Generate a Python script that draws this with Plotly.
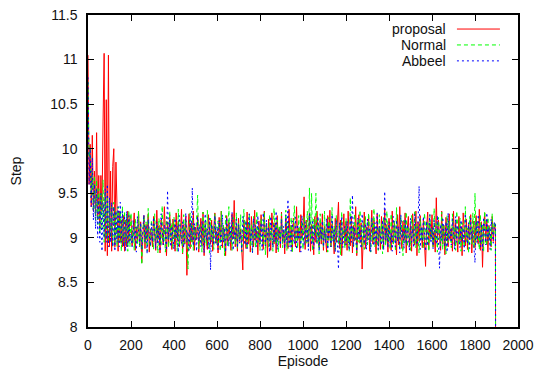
import plotly.graph_objects as go

# Episodes (x): every 5 episodes, final drop at 1900
episodes = list(range(0, 1900, 5)) + [1900]

proposal = [
    # 0-195
    11.05, 9.6, 10.05, 9.35, 10.15, 9.3, 9.75, 9.25, 10.18, 9.2,
    9.7, 9.1, 9.7, 9.3, 10.3, 11.07, 8.85, 10.55, 8.8, 11.05,
    8.9, 9.75, 8.85, 9.8, 10.0, 8.9, 9.85, 9.2, 8.85, 9.3,
    8.95, 9.2, 8.9, 9.25, 8.85, 9.2, 8.9, 9.3, 8.95, 9.25,
    # 200-1895
    9.22, 8.91, 9.05, 9.28, 8.86, 9.12, 8.95, 9.3, 8.9, 9.18, 8.72, 9.08, 9.25, 8.88, 9.15, 8.97, 9.27, 8.84, 9.1, 9.02,
    8.9, 9.24, 9.05, 8.86, 9.31, 8.98, 9.14, 8.83, 9.2, 9.01, 8.92, 9.35, 9.06, 8.8, 9.18, 8.94, 9.26, 9.0, 8.87, 9.21,
    9.1, 8.85, 9.28, 8.96, 9.19, 8.9, 9.04, 9.32, 8.82, 9.15, 8.93, 9.24, 8.58, 9.09, 9.27, 8.88, 9.17, 8.95, 9.3, 8.86,
    9.12, 8.98, 9.25, 8.84, 9.06, 9.22, 8.91, 9.29, 8.8, 9.16, 9.0, 8.87, 9.26, 9.03, 8.93, 9.2, 8.85, 9.11, 9.28, 8.94,
    9.07, 8.83, 9.23, 8.97, 9.3, 8.89, 9.14, 9.02, 8.8, 9.25, 8.92, 9.18, 9.05, 8.86, 9.27, 8.99, 9.42, 8.9, 9.13, 8.85,
    9.22, 8.96, 9.1, 8.82, 8.64, 9.2, 9.04, 8.88, 9.29, 8.93, 9.16, 8.84, 9.24, 9.01, 8.9, 9.31, 8.97, 9.08, 8.81, 9.19,
    8.95, 9.26, 9.03, 8.87, 9.3, 8.92, 9.15, 8.78, 9.21, 9.0, 8.86, 9.28, 9.06, 8.93, 9.17, 8.83, 9.25, 8.98, 9.12, 8.89,
    9.29, 8.94, 9.08, 8.82, 9.23, 9.01, 8.88, 9.32, 8.96, 9.14, 8.85, 9.22, 9.04, 8.9, 9.35, 8.97, 9.11, 8.84, 9.26, 8.99,
    9.1, 9.46, 8.87, 9.2, 9.03, 8.92, 9.28, 8.85, 9.15, 9.0, 8.81, 9.24, 8.95, 9.3, 9.07, 8.89, 9.19, 8.93, 9.27, 8.86,
    9.13, 9.0, 8.84, 9.25, 8.97, 9.31, 8.9, 9.16, 9.05, 8.82, 9.22, 8.95, 9.12, 9.4, 8.88, 9.2, 8.8, 9.06, 9.27, 8.92,
    9.18, 8.86, 9.3, 9.02, 8.91, 9.24, 8.83, 9.14, 8.97, 9.35, 8.8, 9.09, 9.26, 8.94, 9.17, 8.65, 9.03, 9.29, 8.88, 9.12,
    8.98, 9.25, 8.85, 9.1, 9.31, 8.93, 9.2, 9.01, 8.82, 9.27, 8.95, 9.13, 8.87, 9.24, 9.06, 8.9, 9.32, 8.96, 9.15, 8.84,
    9.22, 9.0, 8.86, 9.3, 8.94, 9.17, 9.05, 8.81, 9.26, 8.92, 9.35, 9.02, 8.88, 9.19, 8.97, 9.28, 8.83, 9.1, 9.24, 8.9,
    9.14, 8.85, 9.27, 9.03, 8.92, 9.3, 8.8, 9.18, 8.96, 9.25, 9.07, 8.89, 9.21, 8.94, 8.68, 9.12, 9.29, 8.87, 9.16, 8.99,
    9.26, 8.9, 9.08, 8.84, 9.45, 8.95, 9.2, 9.02, 8.86, 9.3, 8.93, 9.14, 8.81, 9.23, 9.05, 8.9, 9.27, 8.97, 9.11, 8.85,
    9.3, 8.92, 9.17, 9.0, 8.84, 9.24, 8.96, 9.13, 8.8, 9.28, 9.04, 8.91, 9.21, 8.87, 9.15, 8.98, 9.26, 8.83, 9.09, 9.19,
    8.89, 9.25, 9.02, 8.93, 9.32, 8.86, 9.18, 8.67, 9.1, 9.28, 8.95, 9.2, 8.84, 9.14, 9.0, 8.9, 9.24, 8.96, 9.15, 9.1,
    # 1900
    0.0,
]

normal = [
    # 0-195
    10.75, 9.9, 10.0, 9.45, 9.75, 9.3, 9.7, 9.2, 9.65, 9.15,
    9.55, 9.05, 9.5, 9.1, 9.65, 8.95, 9.5, 9.0, 9.45, 8.95,
    9.4, 9.0, 9.35, 8.9, 9.4, 8.95, 9.3, 8.9, 9.35, 8.95,
    9.3, 8.85, 9.35, 8.9, 9.3, 8.95, 9.25, 8.85, 9.3, 8.9,
    # 200-1895
    9.28, 8.95, 9.12, 8.86, 9.21, 9.03, 8.92, 9.3, 8.89, 9.15, 8.7, 9.06, 9.25, 8.93, 9.18, 8.85, 9.33, 9.0, 8.9, 9.2,
    9.04, 8.87, 9.27, 8.97, 9.14, 8.83, 9.22, 9.01, 8.91, 9.36, 8.95, 9.1, 8.84, 9.24, 9.06, 8.89, 9.3, 8.96, 9.17, 8.88,
    9.23, 8.99, 9.09, 8.85, 9.32, 8.93, 9.16, 9.04, 8.82, 9.26, 8.94, 9.19, 9.02, 8.65, 9.11, 9.28, 8.9, 9.2, 8.86, 9.13,
    8.97, 9.24, 9.48, 8.88, 9.15, 9.03, 8.84, 9.29, 8.95, 9.18, 8.91, 9.31, 9.05, 8.83, 9.22, 8.98, 9.13, 8.87, 9.27, 9.01,
    8.92, 9.19, 9.07, 8.85, 9.3, 8.96, 9.14, 8.8, 9.25, 9.02, 8.9, 9.35, 8.97, 9.12, 8.86, 9.23, 9.04, 8.93, 9.28, 8.88,
    9.16, 8.98, 9.26, 8.84, 9.1, 9.32, 8.94, 9.2, 8.87, 9.06, 9.27, 8.91, 9.15, 8.82, 9.24, 9.0, 8.89, 9.3, 8.95, 9.13,
    8.86, 9.22, 9.04, 8.93, 9.29, 8.81, 9.17, 9.01, 8.9, 9.26, 8.97, 9.11, 8.85, 9.33, 9.05, 8.92, 9.2, 8.84, 9.14, 8.99,
    9.27, 8.89, 9.1, 8.95, 9.31, 8.86, 9.18, 9.03, 8.91, 9.23, 8.83, 9.15, 9.36, 8.96, 9.08, 8.88, 9.25, 9.0, 8.93, 9.19,
    8.87, 9.24, 9.02, 8.94, 9.3, 8.9, 9.56, 8.98, 9.5, 8.85, 9.21, 9.04, 9.5, 8.92, 9.17, 8.82, 9.27, 8.97, 9.12, 8.89,
    9.3, 8.95, 9.16, 8.84, 9.23, 9.01, 8.9, 9.34, 8.96, 9.13, 8.86, 9.25, 9.06, 8.93, 9.18, 8.81, 9.29, 8.99, 9.1, 8.88,
    9.22, 8.94, 9.07, 8.85, 9.45, 8.98, 9.14, 8.89, 9.27, 9.03, 8.83, 9.2, 8.95, 9.31, 9.05, 8.9, 9.17, 8.87, 9.24, 9.0,
    8.92, 9.28, 9.09, 8.84, 9.21, 8.97, 9.33, 8.9, 9.12, 9.02, 8.86, 9.26, 8.95, 9.16, 8.82, 9.23, 9.04, 8.91, 9.3, 8.96,
    9.14, 8.87, 9.27, 9.0, 8.93, 9.19, 8.85, 9.34, 8.98, 9.1, 8.88, 9.24, 9.05, 8.8, 9.2, 8.95, 9.29, 8.9, 9.13, 9.01,
    8.86, 9.25, 9.07, 8.94, 9.31, 8.89, 9.15, 9.02, 8.83, 9.22, 8.97, 9.12, 8.88, 9.28, 9.04, 8.92, 9.18, 8.85, 9.26, 8.99,
    9.1, 8.9, 9.33, 8.96, 9.16, 8.84, 9.23, 9.03, 8.91, 9.29, 8.87, 9.14, 9.0, 8.82, 9.25, 8.95, 9.19, 9.06, 8.89, 9.27,
    8.98, 9.13, 8.86, 9.3, 9.01, 8.92, 9.22, 8.85, 9.17, 9.04, 8.9, 9.35, 8.96, 9.11, 8.83, 9.24, 9.02, 8.93, 9.28, 8.88,
    9.5, 8.95, 9.2, 9.05, 8.87, 9.26, 8.93, 9.15, 8.84, 9.3, 9.0, 8.91, 9.23, 8.97, 9.12, 8.86, 9.27, 9.02, 9.18, 9.15,
    # 1900
    0.0,
]

abbeel = [
    # 0-195
    10.8, 9.6, 10.0, 9.35, 9.9, 9.2, 9.6, 9.1, 9.55, 9.0,
    9.45, 8.95, 9.5, 8.85, 9.4, 9.0, 9.55, 8.95, 9.6, 8.9,
    9.45, 8.95, 9.4, 8.9, 9.35, 8.85, 9.3, 8.95, 9.35, 8.9,
    9.4, 8.95, 9.3, 8.9, 9.25, 8.85, 9.3, 8.9, 9.25, 8.95,
    # 200-1895
    9.05, 8.9, 9.2, 8.97, 9.12, 8.84, 9.24, 9.0, 8.92, 9.17, 8.87, 9.09, 9.26, 8.95, 9.14, 8.82, 9.21, 9.03, 8.91, 9.16,
    8.96, 9.23, 9.04, 8.88, 9.18, 8.93, 9.11, 8.85, 9.27, 9.0, 8.92, 9.15, 9.06, 8.86, 9.53, 8.98, 9.2, 8.9, 9.13, 9.02,
    8.87, 9.22, 8.99, 9.14, 8.84, 9.25, 9.03, 8.93, 9.18, 8.89, 9.1, 9.28, 8.95, 9.07, 8.86, 9.2, 8.97, 9.56, 8.91, 9.16,
    9.01, 8.85, 9.24, 8.96, 9.12, 8.9, 9.19, 9.04, 8.83, 9.27, 8.98, 9.1, 8.88, 9.22, 8.64, 9.15, 9.02, 8.92, 9.25, 8.94,
    9.13, 8.87, 9.2, 9.0, 8.91, 9.26, 8.95, 9.11, 8.84, 9.23, 9.05, 8.9, 9.17, 8.96, 9.29, 8.86, 9.08, 8.99, 9.21, 8.89,
    9.15, 8.94, 9.06, 8.85, 9.24, 9.01, 8.92, 9.19, 8.88, 9.13, 9.27, 8.95, 9.09, 8.83, 9.22, 8.98, 9.14, 8.9, 9.25, 9.02,
    8.93, 9.17, 8.86, 9.28, 9.03, 8.91, 9.2, 8.96, 9.12, 8.84, 9.24, 9.0, 8.89, 9.16, 8.95, 9.3, 8.87, 9.1, 9.04, 8.92,
    9.21, 8.97, 9.13, 8.88, 9.26, 8.94, 9.43, 8.9, 9.07, 8.85, 9.19, 9.02, 8.93, 9.23, 8.87, 9.15, 8.98, 9.09, 8.84, 9.25,
    9.0, 8.91, 9.18, 8.96, 9.1, 8.86, 9.27, 9.04, 8.92, 9.2, 8.88, 9.14, 9.01, 8.95, 9.24, 8.85, 9.12, 8.98, 9.19, 8.9,
    9.08, 8.94, 9.22, 8.87, 9.15, 9.03, 8.9, 9.26, 8.96, 9.11, 8.84, 9.2, 8.99, 8.65, 9.17, 8.93, 9.24, 8.89, 9.06, 9.13,
    8.92, 9.19, 9.02, 8.86, 9.25, 8.95, 9.48, 8.9, 9.12, 9.0, 8.85, 9.22, 8.97, 9.09, 8.88, 9.27, 9.04, 8.93, 9.16, 8.87,
    9.21, 8.98, 9.1, 8.84, 9.23, 9.01, 8.91, 9.17, 8.95, 9.28, 8.87, 9.13, 9.05, 8.92, 9.2, 8.86, 9.52, 8.97, 9.11, 8.89,
    9.18, 8.94, 9.06, 8.85, 9.24, 9.02, 8.9, 9.2, 8.96, 9.13, 8.83, 9.26, 8.99, 9.08, 8.88, 9.21, 8.93, 9.15, 9.03, 8.86,
    9.22, 8.95, 9.1, 8.89, 9.27, 9.0, 8.92, 9.17, 9.58, 8.87, 9.13, 8.96, 9.24, 9.04, 8.85, 9.19, 8.91, 9.09, 9.26, 8.94,
    9.12, 8.88, 9.2, 9.01, 8.93, 9.25, 8.86, 8.66, 9.15, 8.97, 9.23, 9.03, 8.9, 9.18, 8.84, 9.28, 8.98, 9.1, 8.92, 9.21,
    9.0, 8.87, 9.24, 8.95, 9.14, 9.04, 8.89, 9.2, 8.96, 9.11, 8.85, 9.27, 9.02, 8.93, 9.17, 8.88, 9.22, 8.99, 9.08, 8.91,
    8.72, 9.19, 8.95, 9.26, 9.03, 8.9, 9.16, 8.86, 9.23, 9.0, 8.92, 9.28, 8.97, 9.12, 8.87, 9.21, 9.05, 8.94, 9.18, 9.15,
    # 1900
    0.0,
]

series_names = ["proposal", "Normal", "Abbeel"]
series_values = [proposal, normal, abbeel]
series_colors = ["#ff0000", "#00ff00", "#0000ff"]
series_dash = ["solid", "4px,3px", "2px,3px"]

x_ticks = [0, 200, 400, 600, 800, 1000, 1200, 1400, 1600, 1800, 2000]
y_ticks = [8, 8.5, 9, 9.5, 10, 10.5, 11, 11.5]
y_ticktext = ["8", "8.5", "9", "9.5", "10", "10.5", "11", "11.5"]

FONT = "Liberation Sans, Arial, Helvetica, sans-serif"

fig = go.Figure()
for name, vals, col, dash in zip(series_names, series_values, series_colors, series_dash):
    fig.add_trace(go.Scatter(
        x=episodes, y=vals, mode="lines", name=name,
        line=dict(color=col, width=1, dash=dash),
        showlegend=False,
    ))

# gnuplot-style legend: right-aligned text followed by a line sample
legend_y = [0.955, 0.904, 0.853]
for name, col, dash, ly in zip(series_names, series_colors, series_dash, legend_y):
    fig.add_annotation(
        x=0.835, y=ly, xref="paper", yref="paper", text=name,
        showarrow=False, xanchor="right", yanchor="middle", borderpad=0,
        font=dict(family=FONT, size=14, color="#111"),
    )
    fig.add_shape(
        type="line", xref="paper", yref="paper",
        x0=0.858, x1=0.958, y0=ly, y1=ly,
        line=dict(color=col, width=1, dash=dash),
    )

axis_common = dict(
    showline=True, linecolor="#000", linewidth=1.5, mirror="ticks",
    ticks="inside", ticklen=6, tickcolor="#000", tickwidth=1,
    showgrid=False, zeroline=False, automargin=False,
    tickfont=dict(family=FONT, size=14, color="#111"),
)

fig.update_layout(
    width=538, height=372,
    margin=dict(l=88, r=20, t=15, b=45, autoexpand=False),
    paper_bgcolor="white", plot_bgcolor="white",
    xaxis=dict(range=[0, 2000], tickvals=x_ticks, ticklabelstandoff=4,
               title=dict(text="Episode", font=dict(family=FONT, size=14, color="#111"), standoff=4),
               **axis_common),
    yaxis=dict(range=[8, 11.5], tickvals=y_ticks, ticktext=y_ticktext, ticklabelstandoff=6,
               title=dict(text="Step", font=dict(family=FONT, size=14, color="#111"), standoff=25),
               **axis_common),
)

fig.write_html(
    "out.html",
    config={"displayModeBar": False},
    post_script="document.body.style.margin='0';document.body.style.padding='0';",
)
